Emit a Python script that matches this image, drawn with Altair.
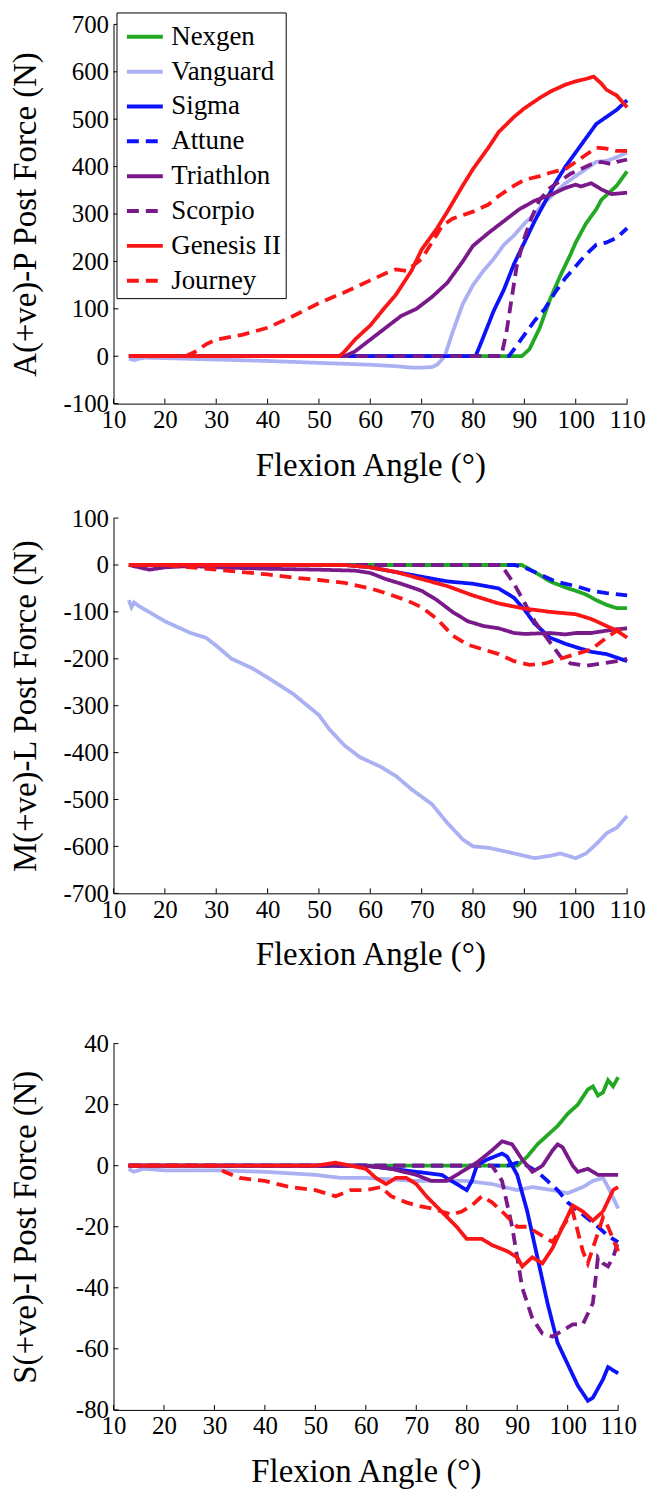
import altair as alt
import pandas as pd

MODELS = ["Nexgen", "Vanguard", "Sigma", "Attune", "Triathlon", "Scorpio", "Genesis II", "Journey"]
COLORS = ["#22a822", "#aab0f2", "#0c12fa", "#0c12fa", "#7a1a8a", "#7a1a8a", "#fa1616", "#fa1616"]
DASHES = [[1, 0], [1, 0], [1, 0], [12, 7], [1, 0], [12, 7], [1, 0], [12, 7]]
X_TICKS = [10, 20, 30, 40, 50, 60, 70, 80, 90, 100, 110]
AP_TICKS = [-100, 0, 100, 200, 300, 400, 500, 600, 700]
ML_TICKS = [-700, -600, -500, -400, -300, -200, -100, 0, 100]
SI_TICKS = [-80, -60, -40, -20, 0, 20, 40]

# ---- Panel 1: A(+ve)-P post force (angle, N) ----
AP_NEXGEN = [(13, 0), (89.5, 0), (91, 15), (93, 60), (95, 120), (97, 170), (99, 215), (100, 240), (102, 280),
             (104, 310), (105, 330), (107, 350), (108, 360), (109, 375), (110, 390)]
AP_VANGUARD = [(13, -5), (14, -8), (16, -3), (20, -4), (30, -7), (40, -10), (50, -14), (55, -16), (60, -18),
               (65, -21), (68, -24), (70, -24), (72, -23), (73, -18), (74.5, 0), (76, 50), (78, 110), (80, 150),
               (82, 180), (84, 205), (86, 235), (88, 255), (90, 280), (92, 300), (94, 325), (96, 345), (98, 365),
               (100, 380), (102, 395), (104, 410), (106, 412), (108, 420), (110, 430)]
AP_SIGMA = [(13, 0), (80.5, 0), (82, 40), (84, 95), (86, 140), (88, 195), (90, 240), (92, 285), (94, 325),
            (96, 365), (98, 400), (100, 430), (102, 460), (104, 490), (106, 505), (108, 520), (110, 540)]
AP_ATTUNE = [(13, 0), (87, 0), (88, 15), (90, 45), (92, 75), (94, 100), (96, 135), (98, 165), (100, 190),
             (102, 215), (104, 235), (106, 240), (108, 250), (110, 270)]
AP_TRIATHLON = [(13, 0), (55, 0), (57, 10), (60, 35), (63, 60), (66, 85), (69, 100), (72, 125), (75, 155),
                (78, 200), (80, 233), (83, 260), (86, 285), (89, 310), (92, 328), (95, 340), (98, 355),
                (100, 362), (101, 358), (103, 365), (105, 352), (107, 342), (110, 345)]
AP_SCORPIO = [(13, 0), (85.5, 0), (86.5, 50), (87.5, 120), (88.5, 190), (90, 250), (91.5, 295), (93, 330),
              (95, 355), (97, 370), (99, 385), (101, 395), (103, 405), (105, 410), (107, 405), (108, 410),
              (110, 415)]
AP_GENESIS = [(13, 0), (54, 0), (55, 10), (57, 35), (60, 65), (63, 105), (65, 130), (68, 180), (70, 225),
              (73, 270), (75, 305), (78, 360), (80, 395), (83, 440), (85, 473), (88, 505), (90, 523), (93, 545),
              (95, 558), (98, 573), (100, 580), (102, 585), (103.5, 590), (105, 575), (106, 562), (108, 550),
              (110, 525)]
AP_JOURNEY = [(13, 0), (24, 0), (26, 10), (28, 25), (30, 35), (35, 45), (40, 60), (45, 85), (50, 112),
              (55, 135), (60, 160), (63, 175), (65, 183), (67, 180), (70, 205), (72, 240), (74, 275), (76, 290),
              (80, 305), (83, 320), (85, 338), (88, 360), (90, 372), (93, 380), (95, 387), (98, 395), (100, 410),
              (102, 425), (104, 440), (106, 438), (108, 433), (110, 433)]

# ---- Panel 2: M(+ve)-L post force ----
ML_NEXGEN = [(13, 0), (89.5, 0), (92, -15), (95, -35), (98, -48), (100, -55), (102, -63), (104, -75),
             (106, -85), (108, -92), (110, -92)]
ML_VANGUARD = [(13, -75), (13.5, -90), (14, -80), (15, -88), (20, -120), (25, -145), (28, -155), (30, -172),
               (33, -200), (37, -220), (40, -240), (45, -275), (50, -320), (52, -350), (55, -385), (58, -410),
               (62, -430), (65, -450), (68, -478), (72, -510), (75, -550), (78, -585), (80, -600), (83, -603),
               (86, -610), (90, -620), (92, -625), (95, -620), (97, -615), (100, -625), (102, -615),
               (104, -595), (106, -572), (108, -560), (110, -535)]
ML_SIGMA = [(13, 0), (55, 0), (60, -5), (65, -15), (70, -25), (75, -35), (80, -40), (85, -50), (88, -70),
            (90, -95), (92, -125), (95, -155), (98, -168), (100, -175), (103, -185), (106, -190), (110, -205)]
ML_ATTUNE = [(13, 0), (88, 0), (90, -5), (93, -20), (96, -35), (100, -45), (103, -55), (106, -60), (110, -65)]
ML_TRIATHLON = [(13, 0), (15, -5), (17, -10), (20, -5), (25, -2), (30, -5), (40, -8), (50, -10), (57, -12),
                (60, -17), (63, -30), (66, -40), (70, -55), (73, -75), (76, -100), (79, -120), (82, -130),
                (85, -135), (88, -145), (90, -147), (95, -145), (98, -148), (100, -145), (103, -145),
                (106, -140), (108, -137), (110, -135)]
ML_SCORPIO = [(13, 0), (85.5, 0), (88, -40), (90, -80), (92, -120), (95, -165), (97, -195), (99, -210),
              (102, -215), (105, -210), (108, -205), (110, -200)]
ML_GENESIS = [(13, 0), (55, 0), (60, -5), (65, -15), (70, -30), (75, -45), (80, -65), (85, -82), (90, -93),
              (95, -100), (100, -105), (103, -115), (106, -130), (108, -140), (110, -155)]
ML_JOURNEY = [(13, 0), (20, 0), (25, -5), (30, -10), (35, -15), (40, -20), (45, -27), (50, -32), (55, -38),
              (60, -50), (63, -60), (67, -75), (70, -90), (73, -115), (76, -150), (79, -170), (82, -180),
              (85, -190), (88, -205), (91, -213), (94, -210), (97, -200), (100, -190), (103, -180),
              (106, -155), (108, -140), (110, -135)]

# ---- Panel 3: S(+ve)-I post force ----
SI_NEXGEN = [(13, 0), (90, 0), (92, 3), (94, 7), (96, 10), (98, 13), (100, 17), (102, 20), (104, 25),
             (105, 26), (106, 23), (107, 24), (108, 28), (109, 26), (110, 29)]
SI_VANGUARD = [(13, -1), (14, -2), (16, -1), (20, -1.5), (30, -1.5), (40, -2), (50, -3), (55, -4), (60, -4),
               (65, -4.5), (70, -5), (75, -5), (80, -5), (85, -6), (90, -8), (93, -7), (97, -8), (100, -9),
               (103, -7), (105, -5), (107, -4), (108, -7), (110, -14)]
SI_SIGMA = [(13, 0), (60, 0), (65, -1), (70, -2), (75, -3), (78, -6), (80, -8), (81, -5), (82, 0), (84, 2),
            (87, 4), (88, 3), (90, -3), (92, -15), (94, -30), (96, -45), (98, -58), (100, -65), (102, -72),
            (104, -77), (105, -76), (107, -70), (108, -66), (110, -68)]
SI_ATTUNE = [(13, 0), (88, 0), (90, 1), (92, 0), (94, -2), (96, -5), (98, -8), (100, -12), (103, -16),
             (106, -20), (108, -23), (110, -25)]
SI_TRIATHLON = [(13, 0), (60, 0), (65, -1), (70, -3), (73, -5), (76, -5), (79, -2), (82, 1), (85, 5), (87, 8),
                (89, 7), (91, 2), (93, -2), (95, 0), (97, 5), (98, 7), (99, 6), (101, 0), (102, -2),
                (104, -1), (106, -3), (108, -3), (110, -3)]
SI_SCORPIO = [(13, 0), (85, 0), (87, -5), (89, -20), (91, -40), (93, -50), (95, -55), (97, -56), (99, -54),
              (101, -52), (103, -52), (105, -45), (106, -30), (107, -32), (108, -33), (109, -30), (110, -25)]
SI_GENESIS = [(13, 0), (50, 0), (54, 1), (57, 0), (60, -1), (62, -4), (64, -6), (66, -4), (68, -4), (70, -6),
              (72, -10), (75, -15), (78, -20), (80, -24), (83, -24), (85, -26), (88, -28), (90, -30),
              (91, -33), (93, -30), (95, -32), (97, -27), (99, -20), (101, -13), (103, -15), (105, -18),
              (107, -15), (109, -8), (110, -7)]
SI_JOURNEY = [(13, 0), (30, 0), (32, -2), (35, -4), (40, -5), (45, -7), (50, -8), (54, -10), (57, -8),
              (60, -8), (63, -7), (65, -10), (68, -12), (70, -13), (73, -14), (75, -15), (77, -16), (79, -15),
              (81, -13), (83, -10), (85, -12), (87, -15), (90, -20), (92, -20), (95, -23), (97, -25),
              (99, -20), (101, -15), (103, -28), (104, -32), (106, -22), (107, -17), (108, -20), (110, -28)]

AP = [AP_NEXGEN, AP_VANGUARD, AP_SIGMA, AP_ATTUNE, AP_TRIATHLON, AP_SCORPIO, AP_GENESIS, AP_JOURNEY]
ML = [ML_NEXGEN, ML_VANGUARD, ML_SIGMA, ML_ATTUNE, ML_TRIATHLON, ML_SCORPIO, ML_GENESIS, ML_JOURNEY]
SI = [SI_NEXGEN, SI_VANGUARD, SI_SIGMA, SI_ATTUNE, SI_TRIATHLON, SI_SCORPIO, SI_GENESIS, SI_JOURNEY]

FONT = "'Liberation Serif', 'Times New Roman', Times, 'DejaVu Serif', serif"
X_TITLE = "Flexion Angle (\u00b0)"

neg_fmt = "datum.value < 0 ? '-' + abs(datum.value) : '' + datum.value"


def frame(series):
    rows = []
    for name, pts in zip(MODELS, series):
        for i, (a, v) in enumerate(pts):
            rows.append({"model": name, "angle": a, "force": v, "order": i})
    return pd.DataFrame(rows)


def panel(series, yticks, ytitle, width, height, show_legend):
    df = frame(series)
    ymin, ymax = yticks[0], yticks[-1]
    xsc = alt.Scale(domain=[10, 110], nice=False, zero=False)
    ysc = alt.Scale(domain=[ymin, ymax], nice=False, zero=False)
    common = dict(ticks=False, tickSize=0, grid=False, domainColor="black", labelFlush=False,
                  labelFont=FONT, titleFont=FONT, labelFontSize=25, titleFontSize=33,
                  labelColor="black", titleColor="black", titleFontWeight="normal")
    xaxis = alt.Axis(values=X_TICKS, title=X_TITLE, labelPadding=4, titleY=46, titleBaseline="top", **common)
    yaxis = alt.Axis(values=yticks, title=ytitle, labelPadding=5, labelExpr=neg_fmt, titleX=-71, **common)
    if show_legend:
        leg = alt.Legend(orient="none", legendX=3, legendY=-12, title=None, symbolType="stroke",
                         symbolSize=1300, symbolStrokeWidth=4, labelFontSize=27, labelFont=FONT,
                         labelColor="black", strokeColor="black", fillColor="white", padding=4,
                         rowPadding=1, labelOffset=6, symbolOffset=4, cornerRadius=0, labelLimit=300)
    else:
        leg = None
    color = alt.Color("model:N", scale=alt.Scale(domain=MODELS, range=COLORS), legend=leg)
    dash = alt.StrokeDash("model:N", scale=alt.Scale(domain=MODELS, range=DASHES), legend=leg)
    layers = []
    for m in MODELS:
        layers.append(
            alt.Chart(df).transform_filter(alt.datum.model == m).mark_line(strokeWidth=3.8).encode(
                x=alt.X("angle:Q", scale=xsc, axis=xaxis),
                y=alt.Y("force:Q", scale=ysc, axis=yaxis),
                color=color, strokeDash=dash, order="order:Q")
        )
    dy = (ymax - ymin) * 5.0 / height
    dx = 100 * 5.0 / width
    xt = pd.DataFrame({"t": X_TICKS, "y0": [ymin] * len(X_TICKS), "y1": [ymin + dy] * len(X_TICKS)})
    yt = pd.DataFrame({"t": yticks, "x0": [10] * len(yticks), "x1": [10 + dx] * len(yticks)})
    layers.append(alt.Chart(xt).mark_rule(color="black", strokeWidth=1).encode(
        x=alt.X("t:Q", scale=xsc), y=alt.Y("y0:Q", scale=ysc), y2="y1:Q"))
    layers.append(alt.Chart(yt).mark_rule(color="black", strokeWidth=1).encode(
        y=alt.Y("t:Q", scale=ysc), x=alt.X("x0:Q", scale=xsc), x2="x1:Q"))
    return alt.layer(*layers).properties(width=width, height=height)


p1 = panel(AP, AP_TICKS, "A(+ve)-P Post Force (N)", 516, 381, True)
p2 = panel(ML, ML_TICKS, "M(+ve)-L Post Force (N)", 516, 377, False)
p3 = panel(SI, SI_TICKS, "S(+ve)-I Post Force (N)", 507, 368, False).properties(
    title=alt.TitleParams(text=" ", fontSize=8, offset=28, font=FONT))

chart = alt.vconcat(p1, p2, p3, spacing=24).resolve_legend(
    color="independent", strokeDash="independent"
).properties(
    padding={"left": 1, "top": 0, "right": 0, "bottom": 0}
).configure(font=FONT).configure_view(stroke=None).configure_axis(
    labelFont=FONT, titleFont=FONT, domainWidth=1
)

chart.save("out.html", embed_options={"renderer": "svg", "actions": False})
